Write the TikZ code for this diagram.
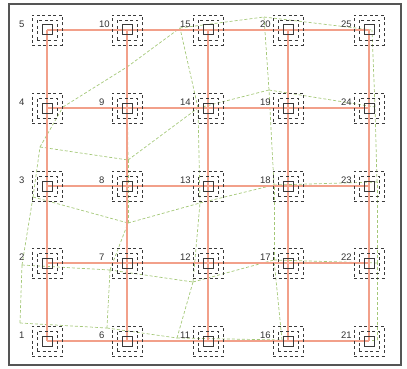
\documentclass[tikz,border=0pt]{standalone}
\usepackage{fontspec}
\setmainfont{Liberation Sans}
\definecolor{salmon}{HTML}{F2A08A}
\definecolor{meshgreen}{HTML}{A4C878}
\definecolor{boxgray}{HTML}{3A3A3A}
\definecolor{framegray}{HTML}{555555}
\definecolor{labelgray}{HTML}{333333}
\begin{document}
\begin{tikzpicture}[x=1pt,y=-1pt,
  redline/.style={draw=salmon, line width=1.8pt},
  greenline/.style={draw=meshgreen, dash pattern=on 3pt off 2pt, line width=0.7pt},
  core/.style={draw=boxgray, line width=1pt, minimum size=10pt, inner sep=0pt, rectangle},
  ring/.style={draw=boxgray, dash pattern=on 3pt off 2.5pt, line width=0.9pt, minimum size=#1, inner sep=0pt, rectangle},
  lbl/.style={font=\fontsize{9.5}{9.5}\selectfont, text=labelgray, anchor=west, inner sep=0pt}]
\useasboundingbox (0,0) rectangle (407,369);
\draw[framegray, line width=1.8pt] (9,4) rectangle (401,365);
% green mesh vertices
\coordinate (g-0-4) at (63,107);  \coordinate (g-1-4) at (127,67);  \coordinate (g-2-4) at (180,28);  \coordinate (g-3-4) at (264,17);  \coordinate (g-4-4) at (372,30);
\coordinate (g-0-3) at (40,147);  \coordinate (g-1-3) at (128,160); \coordinate (g-2-3) at (198,108); \coordinate (g-3-3) at (269,90);  \coordinate (g-4-3) at (375,107);
\coordinate (g-0-2) at (33,197);  \coordinate (g-1-2) at (128,223); \coordinate (g-2-2) at (200,203); \coordinate (g-3-2) at (274,185); \coordinate (g-4-2) at (377,182);
\coordinate (g-0-1) at (22,265);  \coordinate (g-1-1) at (110,270); \coordinate (g-2-1) at (193,282); \coordinate (g-3-1) at (274,260); \coordinate (g-4-1) at (377,263);
\coordinate (g-0-0) at (20,323);  \coordinate (g-1-0) at (107,328); \coordinate (g-2-0) at (177,338); \coordinate (g-3-0) at (282,340); \coordinate (g-4-0) at (377,340);
\foreach \i/\ni in {0/1,1/2,2/3,3/4}{
  \foreach \j in {0,...,4}{
    \draw[greenline] (g-\i-\j) -- (g-\ni-\j);
    \draw[greenline] (g-\j-\i) -- (g-\j-\ni);
  }
}
% node positions
\foreach \i/\cx in {0/47,1/127,2/208,3/288,4/369}{
  \foreach \j/\cy in {0/341,1/263,2/186,3/108,4/30}{
    \pgfmathtruncatemacro{\k}{5*\i+\j+1}
    \coordinate (n\k) at (\cx,\cy);
  }
}
% red grid
\foreach \a/\b in {1/6,6/11,11/16,16/21,2/7,7/12,12/17,17/22,3/8,8/13,13/18,18/23,4/9,9/14,14/19,19/24,5/10,10/15,15/20,20/25,
                   1/2,2/3,3/4,4/5,6/7,7/8,8/9,9/10,11/12,12/13,13/14,14/15,16/17,17/18,18/19,19/20,21/22,22/23,23/24,24/25}{
  \draw[redline] (n\a) -- (n\b);
}
\foreach \k in {1,...,25}{
  \node[core] (c\k) at (n\k) {};
  \node[ring=20pt] (r\k) at (n\k) {};
  \node[ring=30pt] (o\k) at (n\k) {};
  \node[lbl] (l\k) at ([xshift=-28pt,yshift=6pt]n\k) {\k};
}
\end{tikzpicture}
\end{document}
